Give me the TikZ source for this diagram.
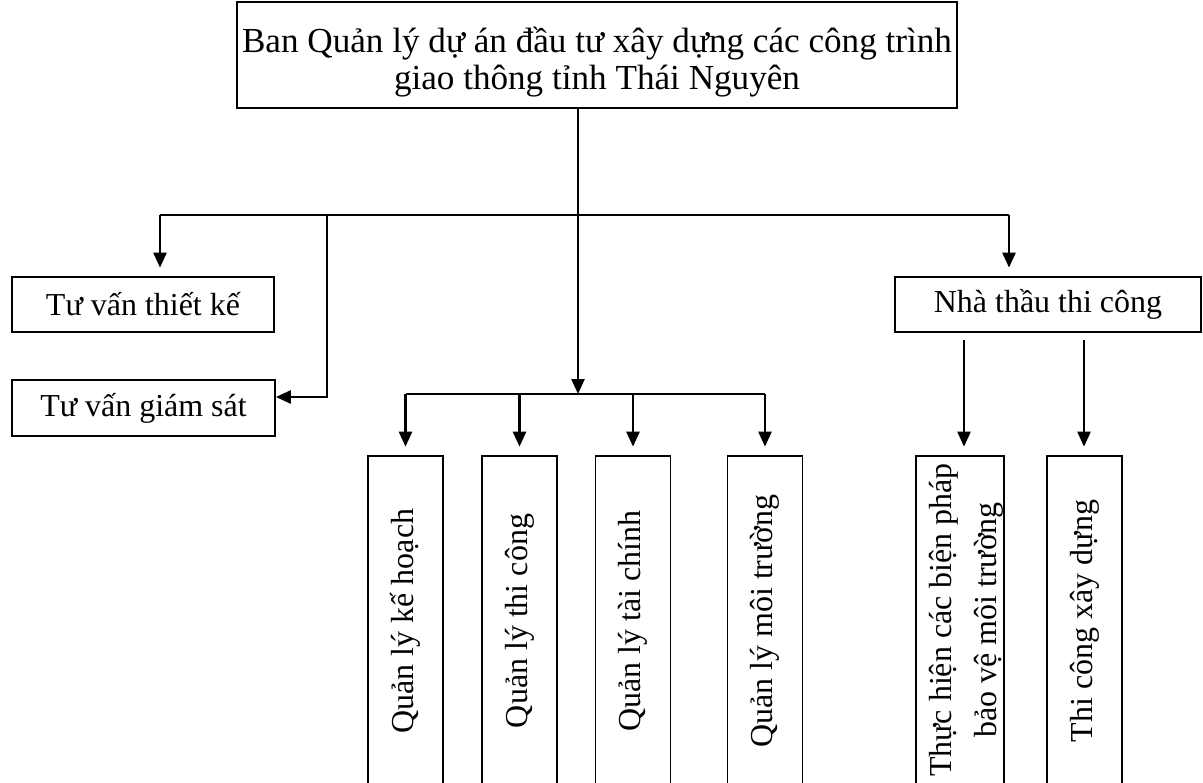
\documentclass[tikz,border=0pt]{standalone}
\usepackage{fontspec}
\setmainfont{Liberation Serif}
\usetikzlibrary{arrows.meta}

\begin{document}
\begin{tikzpicture}[x=0.02cm, y=-0.02cm,
  box/.style={draw, line width=1pt, inner sep=0pt, font=\fontsize{18.2}{20.5}\selectfont},
  vbox/.style={draw, line width=1pt, minimum width=1.5cm, minimum height=6.6cm},
  vtext/.style={rotate=90, font=\fontsize{18.2}{25.5}\selectfont, align=center},
  lin/.style={line width=1.4pt},
  arr/.style={line width=1.4pt, -{Triangle[length=0.3cm, width=0.26cm]}, shorten >=0.17cm}]

\useasboundingbox (0,0) rectangle (1203,782);
\clip (0,0) rectangle (1203,782);

% top
\node[box, minimum width=14.4cm, minimum height=2.12cm] (ban) at (597,55) {};
\node[align=center, inner sep=0pt, font=\fontsize{20}{21.5}\selectfont] (bantxt) at (597,62)
  {Ban Quản lý dự án đầu tư xây dựng các công trình\\giao thông tỉnh Thái Nguyên};

% left and right
\node[box, minimum width=5.24cm, minimum height=1.1cm] (tvtk) at (143,304.5) {Tư vấn thiết kế};
\node[box, minimum width=5.26cm, minimum height=1.12cm] (tvgs) at (143.5,408) {Tư vấn giám sát};
\node[box, minimum width=6.12cm, minimum height=1.1cm] (ntc) at (1048,304.5) {Nhà thầu thi công};

\coordinate (busl) at (160,215);
\coordinate (busr) at (1009,215);
\coordinate (knee) at (327,215);
\coordinate (hub) at (578,394);

\draw[lin] (busl) -- (busr);
\draw[arr] (busl) -- (busl |- tvtk.north);
\draw[arr] (busr) -- (busr |- ntc.north);
\draw[arr, shorten >=0pt] (knee) |- ([yshift=0.22cm]tvgs.east);
\draw[arr, shorten >=0pt] (hub |- ban.south) -- (hub);

% Quan ly
\foreach \x/\name/\txt in {405.5/qlkh/Quản lý kế hoạch, 519.5/qltc/Quản lý thi công,
                           633/qltch/Quản lý tài chính, 765/qlmt/Quản lý môi trường}{
       \node[vbox] (\name) at (\x,621) {};
       \node[vtext] at (\name) {\txt};
       \draw[arr] (\name.north |- hub) -- (\name.north);
}
\draw[lin] (qlkh.north |- hub) -- (qlmt.north |- hub);

% nha thau
\node[vbox, minimum width=1.76cm] (thbp) at (960,621) {};
\node[vtext] at (966.5,620) {Thực hiện các biện pháp\\bảo vệ môi trường};
\node[vbox] (tcxd) at (1084.5,621) {};
\node[vtext] at (tcxd) {Thi công xây dựng};
\foreach \x/\name in {964/thbp,1084/tcxd}{
       \draw[arr, shorten <=0.14cm] (\x,0 |- ntc.south) -- (\x,0 |- \name.north);
}

\end{tikzpicture}
\end{document}
